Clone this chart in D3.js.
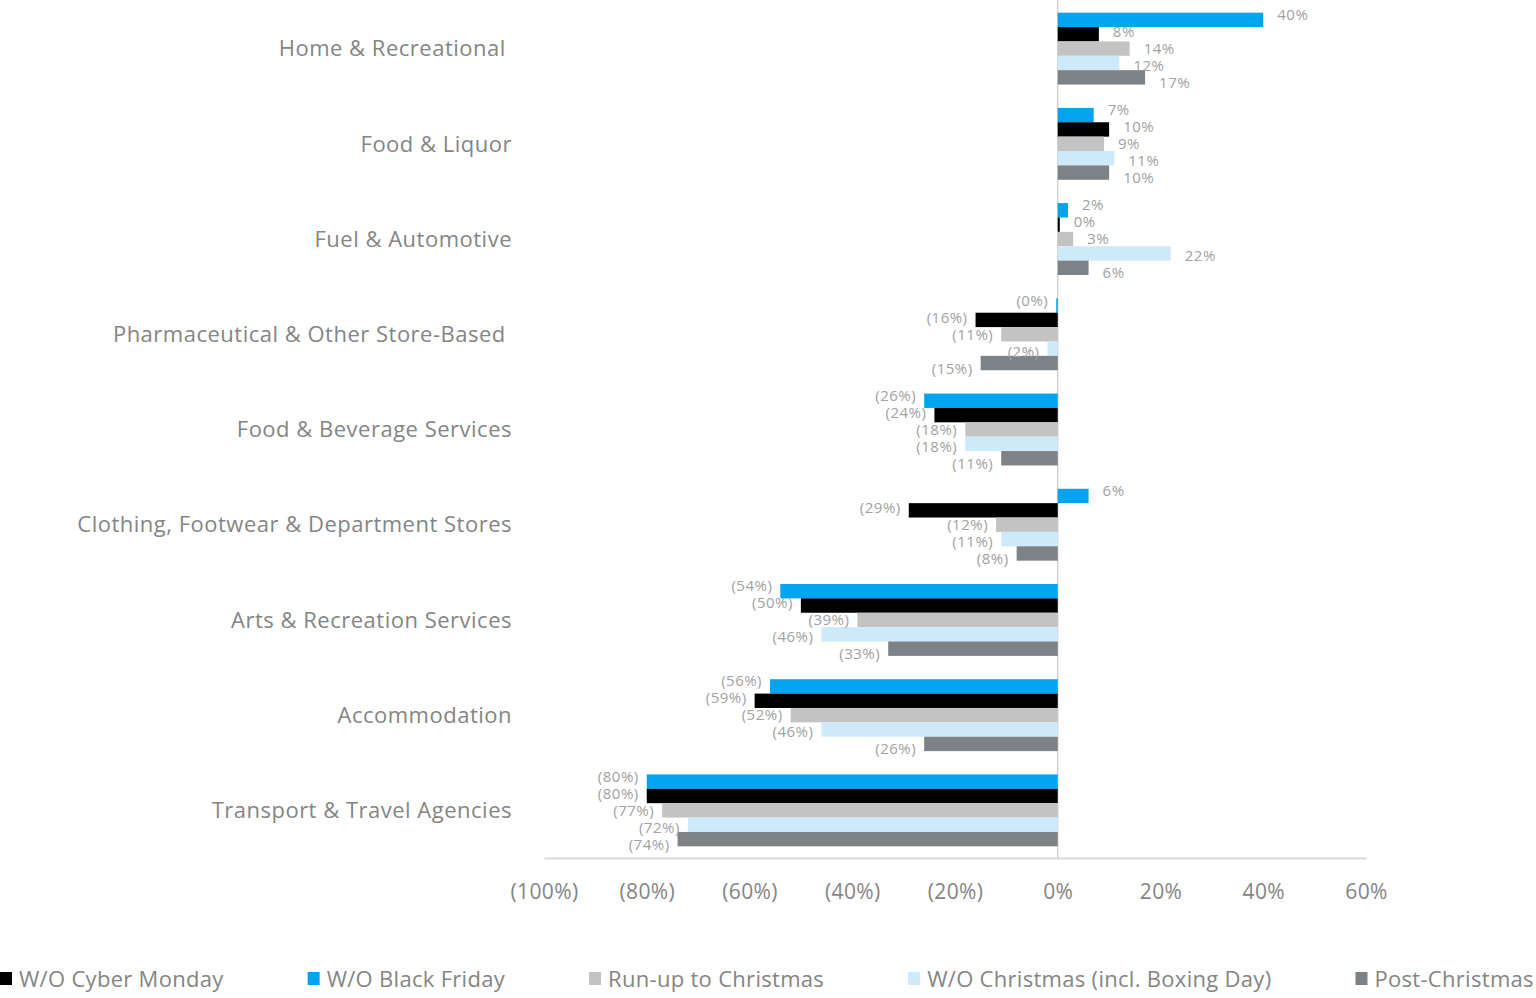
<!DOCTYPE html>
<html>
<head>
<meta charset="utf-8">
<script src="https://cdn.jsdelivr.net/npm/d3@7"></script>
<style>
  html, body { margin: 0; padding: 0; background: #fff; }
  svg { display: block; font-family: "Open Sans", "Noto Sans", sans-serif; }
  .cat { white-space: pre; }
</style>
</head>
<body>
<svg id="chart" width="1536" height="998"></svg>
<script>
// ---- data ----
const categories = [
  "Home & Recreational ",
  "Food & Liquor",
  "Fuel & Automotive",
  "Pharmaceutical & Other Store-Based ",
  "Food & Beverage Services",
  "Clothing, Footwear & Department Stores",
  "Arts & Recreation Services",
  "Accommodation",
  "Transport & Travel Agencies"
];
// bar order within each group (top to bottom)
const seriesNames = ["W/O Black Friday", "W/O Cyber Monday", "Run-up to Christmas", "W/O Christmas (incl. Boxing Day)", "Post-Christmas"];
const blackFriday  = [40, 7, 2, -0.3, -26, 6, -54, -56, -80];
const cyberMonday  = [8, 10, 0.4, -16, -24, -29, -50, -59, -80];
const runUp        = [14, 9, 3, -11, -18, -12, -39, -52, -77];
const woChristmas  = [12, 11, 22, -2, -18, -11, -46, -46, -72];
const postChristmas= [17, 10, 6, -15, -11, -8, -33, -26, -74];
const seriesValues = [blackFriday, cyberMonday, runUp, woChristmas, postChristmas];
const seriesColors = ["#00a4ef", "#000000", "#c3c3c3", "#cdeafb", "#7d8286"];
const legendOrder = [1, 0, 2, 3, 4];
const xTicks = [-100, -80, -60, -40, -20, 0, 20, 40, 60];

// ---- chart ----
const svg = d3.select("#chart");
const x = d3.scaleLinear().domain([-100, 60]).range([544, 1366]);
const y = d3.scaleBand().domain(categories).range([1, 858]).paddingInner(0.245).paddingOuter(0.1225);
const yInner = d3.scaleBand().domain(d3.range(seriesNames.length)).range([0, y.bandwidth()]);
// data labels are spread slightly wider than the bars (as in the reference)
const yLabel = d3.scalePoint().domain(d3.range(seriesNames.length)).range([-34, 34]);
const fmt = v => {
  const r = Math.round(Math.abs(v));
  return v < 0 ? "(" + r + "%)" : r + "%";
};

const rows = [];
categories.forEach((c, ci) => {
  seriesValues.forEach((vals, si) => rows.push({ c, si, v: vals[ci] }));
});

// zero line
svg.append("line")
  .attr("x1", x(0)).attr("x2", x(0))
  .attr("y1", 0).attr("y2", 858)
  .attr("stroke", "#c8c8c8").attr("stroke-width", 1.2);

// bars
svg.append("g").selectAll("rect").data(rows).join("rect")
  .attr("x", d => Math.min(x(0), x(d.v)))
  .attr("width", d => Math.abs(x(d.v) - x(0)))
  .attr("y", d => y(d.c) + yInner(d.si))
  .attr("height", yInner.bandwidth())
  .attr("fill", d => seriesColors[d.si]);

// data labels
svg.append("g").selectAll("text").data(rows).join("text")
  .attr("x", d => d.v >= 0 ? Math.max(x(d.v), x(0)) + 14 : Math.min(x(d.v), x(0)) - 8)
  .attr("y", d => y(d.c) + y.bandwidth() / 2 + yLabel(d.si))
  .attr("dy", "0.35em")
  .attr("text-anchor", d => d.v >= 0 ? "start" : "end")
  .attr("font-size", 15)
  .attr("letter-spacing", 0.5)
  .attr("fill", "#a2a2a2")
  .text(d => fmt(d.v));

// category labels
svg.append("g").selectAll("text").data(categories).join("text")
  .attr("class", "cat")
  .attr("x", 512)
  .attr("y", d => y(d) + y.bandwidth() / 2)
  .attr("dy", "0.35em")
  .attr("text-anchor", "end")
  .attr("font-size", 22)
  .attr("letter-spacing", 0.5)
  .attr("fill", "#858585")
  .text(d => d);

// x axis
const xAxis = d3.axisBottom(x).tickValues(xTicks).tickSize(0).tickPadding(26).tickFormat(fmt);
const gx = svg.append("g").attr("transform", "translate(0,858)").call(xAxis);
gx.select(".domain").attr("stroke", "#d9d9d9").attr("stroke-width", 2);
gx.selectAll(".tick text").attr("font-size", 21).attr("fill", "#858585")
  .attr("letter-spacing", 0.4)
  .attr("font-family", "\"Open Sans\", \"Noto Sans\", sans-serif");

// legend
const lg = svg.append("g").attr("transform", "translate(0,979)");
let lx = 0;
legendOrder.forEach(si => {
  const item = lg.append("g").attr("transform", `translate(${lx},0)`);
  item.append("rect").attr("x", 0).attr("y", -7).attr("width", 12).attr("height", 13).attr("fill", seriesColors[si]);
  const t = item.append("text").attr("x", 19).attr("dy", "0.35em")
    .attr("font-size", 22).attr("letter-spacing", 0.3).attr("fill", "#858585").text(seriesNames[si]);
  lx += 19 + t.node().getComputedTextLength() + 84;
});
</script>
</body>
</html>
